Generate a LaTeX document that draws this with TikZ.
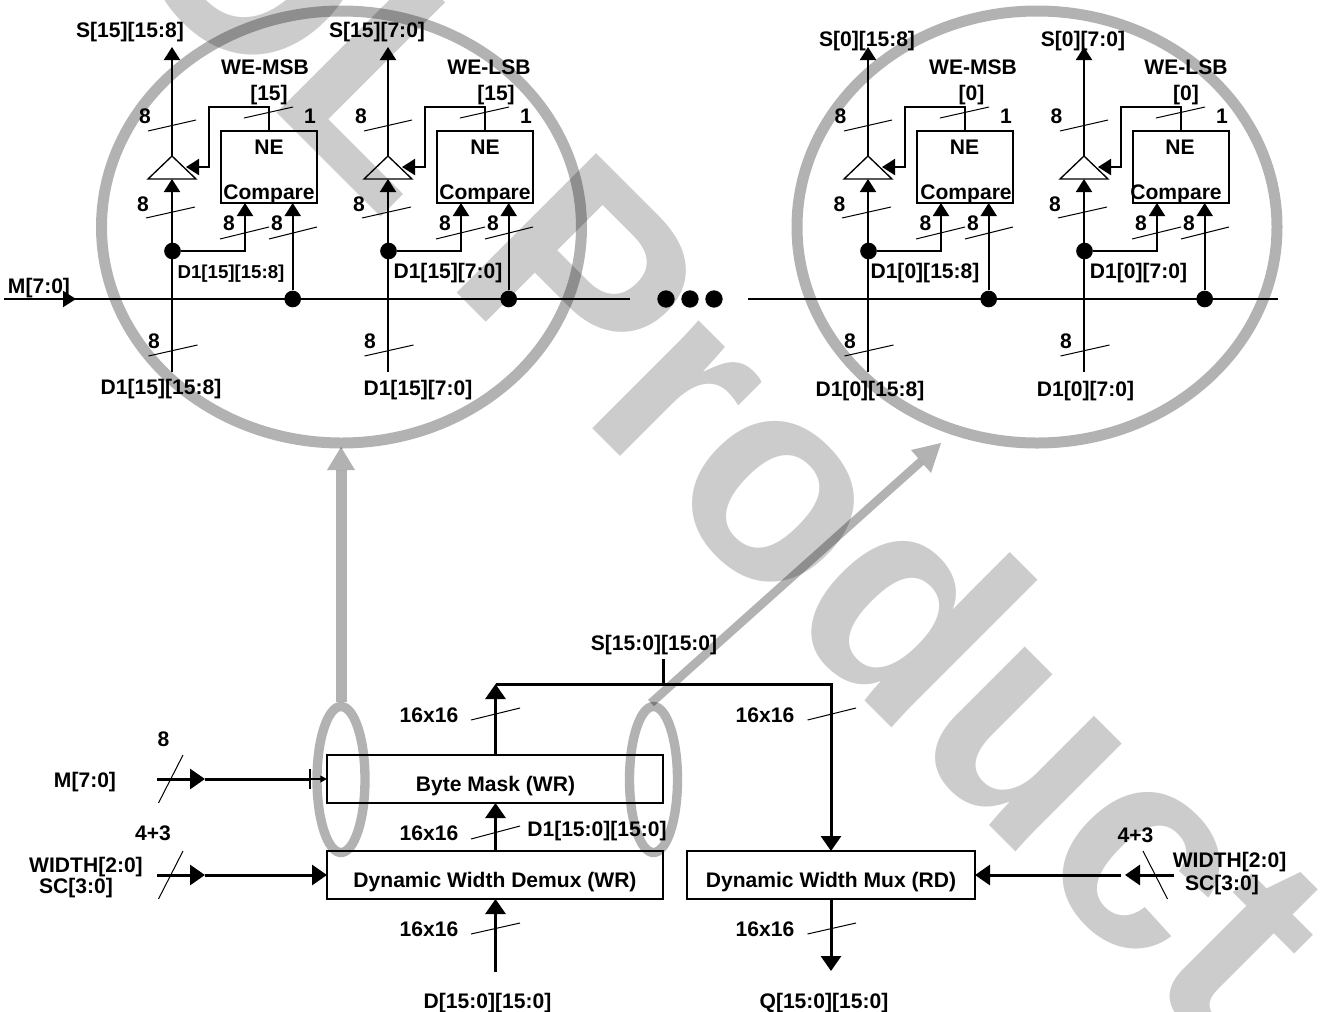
\documentclass[tikz,border=0pt]{standalone}
\usepackage{fontspec}
\setmainfont{Liberation Sans}[BoldFont={Liberation Sans Bold}]
\newfontfamily\stampfont{Liberation Sans Bold}
\usetikzlibrary{arrows.meta}
\tikzset{
  lab/.style={font=\fontsize{15.8pt}{17pt}\selectfont\bfseries, inner sep=0pt, text depth=0pt},
  smalllab/.style={font=\fontsize{14pt}{16pt}\selectfont\bfseries, inner sep=0pt, text depth=0pt},
  wire/.style={line width=1.5pt},
  bus/.style={line width=2.25pt},
  tick/.style={line width=0.75pt},
  dotnode/.style={circle, fill=black, inner sep=0pt, minimum size=12.5pt},
  box/.style={draw, line width=1.5pt, inner sep=0pt, outer sep=0pt},
  halo/.style={draw=black, opacity=0.3},
  halotip/.style={fill=black, opacity=0.3},
  tipS/.style={-{Triangle[length=9.75pt, width=12pt]}},
  tipL/.style={-{Triangle[length=11.25pt, width=15pt]}}
}
\begin{document}
\begin{tikzpicture}[x=0.75pt, y=-0.75pt]
  \useasboundingbox (0, 0) rectangle (1335, 1011);
  \clip (0, 0) rectangle (1335, 1011);

  % watermark
  \node[anchor=base west, rotate=-45, inner sep=0pt, text=black, text opacity=0.2,
    font=\fontsize{215pt}{215pt}\stampfont] (stamp) at (-29.3, -193.3) {EOL Product};

  % the four byte slices
  \foreach \g/\dx in {a/0, b/216, c/696, d/912} {
    \begin{scope}[shift={(\dx, 0)}]
      \node[box, minimum width=72pt, minimum height=54pt] (ne\g) at (269, 167) {};
      \node[dotnode] (tap\g) at (172.5, 251) {};
      \node[dotnode] (mask\g) at (292.7, 299) {};
      \coordinate (bot\g) at (172, 372);
      \coordinate (top\g) at (172, 47);
      \coordinate (apex\g) at (172, 156);
      \coordinate (base\g) at (172, 179);
      \coordinate (en\g) at (186, 167);
      \draw[line width=1pt] (148, 179) -- (apex\g) -- (196, 179) -- cycle;
      \draw[wire, tipS] (apex\g) -- (top\g);
      \draw[wire, tipS] (bot\g) -- (base\g);
      \draw[wire, tipS] (tap\g) -| (245, 203);
      \draw[wire, tipS] (mask\g) -- (292.7, 203);
      \draw[wire, tipS] (ne\g.north) |- (209, 107) |- (en\g);
      \draw[tick] (148, 131) -- (196, 120);
      \draw[tick] (146, 218) -- (195, 207);
      \draw[tick] (220, 239) -- (269, 227);
      \draw[tick] (269, 239) -- (317, 227);
      \draw[tick] (244, 118) -- (293, 107);
      \draw[tick] (148.5, 356) -- (197.5, 345);
    \end{scope}
  }

  % M bus
  \coordinate (ma) at (4, 299);
  \coordinate (mb) at (630, 299);
  \coordinate (mc) at (748, 299);
  \coordinate (md) at (1278, 299);
  \coordinate (mtip) at (76, 299);
  \draw[wire] (ma) -- (mb);
  \draw[wire] (mc) -- (md);
  \draw[wire, tipS] (ma) -- (mtip);
  \foreach \x in {666, 690, 714} \node[dotnode, minimum size=13pt] (more\x) at (\x, 299) {};

  % slice labels
  \node[lab] (sah) at (130, 30) {S[15][15:8]};
  \node[lab] (sbh) at (377, 30) {S[15][7:0]};
  \node[lab] (sch) at (867, 39) {S[0][15:8]};
  \node[lab] (sdh) at (1083, 39) {S[0][7:0]};
  \node[lab] (wea) at (265, 67) {WE-MSB};
  \node[lab] (web) at (489, 67) {WE-LSB};
  \node[lab] (wec) at (973, 67) {WE-MSB};
  \node[lab] (wed) at (1186, 67) {WE-LSB};
  \node[lab] (ixa) at (269, 93) {[15]};
  \node[lab] (ixb) at (496, 93) {[15]};
  \node[lab] (ixc) at (971.5, 93) {[0]};
  \node[lab] (ixd) at (1186, 93) {[0]};
  \node[lab] (onea) at (310, 116) {1};
  \node[lab] (oneb) at (526, 116) {1};
  \node[lab] (onec) at (1006, 116) {1};
  \node[lab] (oned) at (1222, 116) {1};
  \node[lab] (nta) at (269, 147) {NE};
  \node[lab] (ntb) at (485, 147) {NE};
  \node[lab] (ntc) at (964.5, 147) {NE};
  \node[lab] (ntd) at (1180, 147) {NE};
  \node[lab] (cpa) at (269, 192) {Compare};
  \node[lab] (cpb) at (485, 192) {Compare};
  \node[lab] (cpc) at (966, 192) {Compare};
  \node[lab] (cpd) at (1176, 192) {Compare};
  \foreach \n/\x/\y in {1/145/116, 2/361/116, 3/840.5/116, 4/1056.5/116,
      5/143/204, 6/359/204, 7/839.5/204, 8/1055/204,
      9/229/223, 10/277/223, 11/445/223, 12/493/223,
      13/925.5/223, 14/973/223, 15/1141/223, 16/1189/223,
      17/154/341, 18/370/341, 19/850/341, 20/1066/341}
    \node[lab] (eight\n) at (\x, \y) {8};
  \node[smalllab] (tapa) at (231, 272) {D1[15][15:8]};
  \node[lab] (tapb) at (448, 271) {D1[15][7:0]};
  \node[lab] (tapc) at (925, 271) {D1[0][15:8]};
  \node[lab] (tapd) at (1138.5, 271) {D1[0][7:0]};
  \node[lab] (ina) at (161, 387) {D1[15][15:8]};
  \node[lab] (inb) at (418, 388) {D1[15][7:0]};
  \node[lab] (inc) at (870, 389) {D1[0][15:8]};
  \node[lab] (ind) at (1085.5, 389) {D1[0][7:0]};
  \node[lab] (mlab) at (39, 286) {M[7:0]};

  % blocks
  \node[box, minimum width=252pt, minimum height=36pt] (bytemask) at (495, 779) {};
  \node[box, minimum width=252pt, minimum height=36pt] (demux) at (495, 875) {};
  \node[box, minimum width=216pt, minimum height=36pt] (mux) at (831, 875) {};
  \node[lab] (bytemasktxt) at (495.5, 784) {Byte Mask (WR)};
  \node[lab] (demuxtxt) at (495, 880) {Dynamic Width Demux (WR)};
  \node[lab] (muxtxt) at (831, 880) {Dynamic Width Mux (RD)};

  % write path
  \coordinate (din) at (495.5, 972);
  \coordinate (merge) at (495.5, 684);
  \coordinate (sstub) at (663, 659);
  \coordinate (sjoin) at (663, 684);
  \coordinate (qout) at (831, 971);
  \draw[bus, tipL] (din) -- (demux.south -| din);
  \draw[bus, tipL] (demux.north -| din) -- (bytemask.south -| din);
  \draw[bus, tipL] (bytemask.north -| din) -- (merge);
  \draw[bus] (sstub) -- (sjoin);
  \draw[bus, tipL] (merge) -| (mux.north);
  \draw[bus, tipL] (mux.south) -- (qout);

  % side inputs
  \coordinate (mst) at (157, 779);
  \coordinate (mmid) at (205, 779);
  \coordinate (mbar) at (311, 779);
  \coordinate (wst) at (157, 875);
  \coordinate (wmid) at (205, 875);
  \coordinate (rst) at (1174, 875);
  \coordinate (rmid) at (1125, 875);
  \coordinate (rgap) at (1121, 875);
  \draw[bus, tipL] (mst) -- (mmid);
  \draw[bus, -{Bar[width=15pt, line width=1.5pt]}] (mmid) -- (mbar);
  \draw[wire, -{Triangle[length=5pt, width=5pt]}] (mbar) -- (bytemask.west |- mbar);
  \draw[bus, tipL] (wst) -- (wmid);
  \draw[bus, tipL] (wmid) -- (demux.west);
  \draw[bus, tipL] (rst) -- (rmid);
  \draw[bus, tipL] (rgap) -- (mux.east);

  % bus ticks
  \draw[tick] (471, 720) -- (520, 708);
  \draw[tick] (471, 839) -- (520, 826);
  \draw[tick] (471, 934) -- (520, 923);
  \draw[tick] (807.5, 720) -- (856, 708);
  \draw[tick] (807.5, 934) -- (856, 923);
  \draw[tick] (158.5, 803) -- (183, 755);
  \draw[tick] (158.5, 899) -- (183, 851);
  \draw[tick] (1143, 851) -- (1167.5, 899);

  % bus labels
  \node[lab] (slab) at (654, 643) {S[15:0][15:0]};
  \node[lab] (sz1) at (429, 715) {16x16};
  \node[lab] (sz2) at (429, 833) {16x16};
  \node[lab] (sz3) at (429, 929) {16x16};
  \node[lab] (sz4) at (765, 715) {16x16};
  \node[lab] (sz5) at (765, 929) {16x16};
  \node[lab] (d1lab) at (597, 829) {D1[15:0][15:0]};
  \node[lab] (dlab) at (487.5, 1001) {D[15:0][15:0]};
  \node[lab] (qlab) at (824, 1001) {Q[15:0][15:0]};
  \node[lab] (mlab2) at (85, 780) {M[7:0]};
  \node[lab] (mw) at (163.5, 739) {8};
  \node[lab] (wwl) at (153, 833) {4+3};
  \node[lab] (wlab) at (86, 865) {WIDTH[2:0]};
  \node[lab] (sclab) at (76, 886) {SC[3:0]};
  \node[lab] (wwr) at (1135.5, 835) {4+3};
  \node[lab] (wlabr) at (1229.5, 860) {WIDTH[2:0]};
  \node[lab] (sclabr) at (1222, 883) {SC[3:0]};

  % zoom rings
  \draw[halo, line width=8.25pt] (341.5, 227) ellipse (240 and 216);
  \draw[halo, line width=8.25pt] (1037, 227) ellipse (240 and 216);
  \draw[halo, line width=7pt] (341, 779.5) ellipse (24 and 73);
  \draw[halo, line width=7pt] (653.5, 779.5) ellipse (24 and 73);
  \coordinate (ringa) at (341, 702);
  \coordinate (neck) at (341, 470);
  \coordinate (ringb) at (651, 703);
  \coordinate (neckb) at (921, 461.5);
  \draw[halo, line width=8.25pt] (ringa) -- (neck);
  \fill[halotip] (327, 470) -- (341, 447) -- (355, 470) -- cycle;
  \draw[halo, line width=6.5pt] (ringb) -- (neckb);
  \fill[halotip] (911, 450) -- (941, 443) -- (931, 473) -- cycle;
\end{tikzpicture}
\end{document}
